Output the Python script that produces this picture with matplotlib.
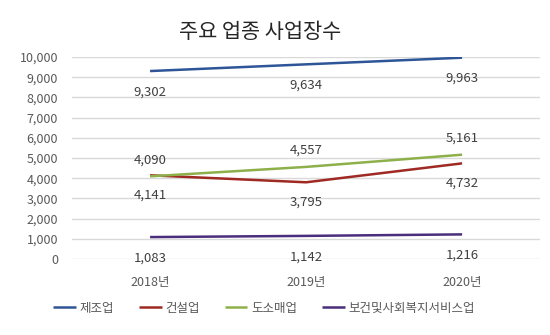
import matplotlib
matplotlib.use("Agg")
import matplotlib.pyplot as plt
from matplotlib.ticker import FuncFormatter

plt.rcParams["font.family"] = ["Noto Sans CJK KR", "DejaVu Sans"]

years = ["2018년", "2019년", "2020년"]
series_names = ["제조업", "건설업", "도소매업", "보건및사회복지서비스업"]
manufacturing = [9302, 9634, 9963]
construction = [4141, 3795, 4732]
retail = [4090, 4557, 5161]
health_welfare = [1083, 1142, 1216]

colors = ["#2E5597", "#9E2A23", "#8DB04A", "#4A2D7C"]
# label offset in points: negative is below the line
offsets = [-15, -14, 12, -15]

fig = plt.figure(figsize=(5.5, 3.35), dpi=100)
ax = fig.add_axes([0.131, 0.227, 0.851, 0.603])

x = list(range(len(years)))
all_series = [manufacturing, construction, retail, health_welfare]
for name, values, color, off in zip(series_names, all_series, colors, offsets):
    ax.plot(x, values, color=color, linewidth=1.8, label=name, solid_capstyle="butt")
    for xi, v in zip(x, values):
        ax.annotate(f"{v:,}", (xi, v), xytext=(0, off), textcoords="offset points",
                    ha="center", va="center", fontsize=9.5, color="#404040")

ax.set_xlim(-0.5, 2.5)
ax.set_ylim(0, 10000)
ax.set_yticks(range(0, 10001, 1000))
ax.yaxis.set_major_formatter(FuncFormatter(lambda v, _: f"{int(v):,}"))
ax.set_xticks(x)
ax.set_xticklabels(years)
ax.tick_params(axis="both", length=0, labelsize=9, colors="#595959")
ax.tick_params(axis="x", pad=12)
ax.tick_params(axis="y", pad=10)
ax.grid(axis="y", color="#D9D9D9", linewidth=1.0)
ax.set_axisbelow(True)
for spine in ax.spines.values():
    spine.set_visible(False)

fig.text(0.473, 0.905, "주요 업종 사업장수", ha="center", va="center",
         fontsize=15, color="#262626")

leg = fig.legend(loc="center", bbox_to_anchor=(0.48, 0.08), ncol=4, frameon=False,
                 fontsize=9, handlelength=1.8, handletextpad=0.3, columnspacing=2.0)
for t in leg.get_texts():
    t.set_color("#595959")

fig.savefig("out.png", dpi=100)
